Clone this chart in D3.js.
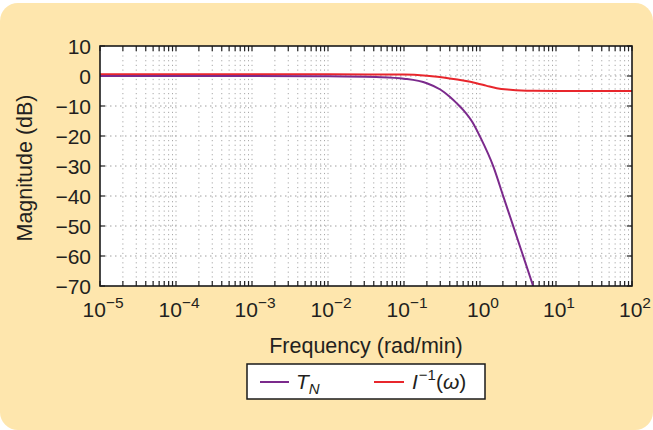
<!DOCTYPE html>
<html><head><meta charset="utf-8">
<script src="https://cdn.jsdelivr.net/npm/d3@7"></script>
<style>
html,body{margin:0;padding:0;background:#fff;}
svg{display:block;font-family:"Liberation Sans",Arial,sans-serif;}
</style></head>
<body>
<svg id="chart" width="653" height="430"></svg>
<script>
// ---- data ----
const freqTN = [1e-5, 1e-3, 0.01, 0.05, 0.1, 0.2, 0.3, 0.4, 0.5, 0.6, 0.8, 1.0, 1.5, 2.03, 2.75, 3.72, 5.0];
const magTN  = [0, 0, -0.1, -0.4, -0.9, -2.4, -4.5, -6.9, -9.2, -11.3, -15.5, -20.2, -30.2, -40.2, -50.2, -60.2, -70];
const freqInv = [1e-5, 0.01, 0.1, 0.2, 0.4, 0.6, 0.9, 1.2, 1.66, 2.5, 3.5, 5, 10, 100];
const magInv  = [0.6, 0.55, 0.5, 0.1, -0.8, -1.5, -2.4, -3.2, -4.1, -4.6, -4.85, -4.95, -5, -5];
const xDecades = [-5, -4, -3, -2, -1, 0, 1, 2];
const yTicks = [10, 0, -10, -20, -30, -40, -50, -60, -70];
const seriesNames = ["T_N", "I^-1(ω)"];

const W = 653, H = 430;
const L = 100, R = 632, T = 46, B = 286;
const svg = d3.select("#chart");

svg.append("rect").attr("x", 0).attr("y", 3).attr("width", W).attr("height", H - 3)
  .attr("rx", 18).attr("fill", "#fee6ad");

const x = d3.scaleLog().domain([1e-5, 1e2]).range([L, R]);
const y = d3.scaleLinear().domain([-70, 10]).range([B, T]);

svg.append("rect").attr("x", L).attr("y", T).attr("width", R - L).attr("height", B - T).attr("fill", "#fff");

// minor + major x positions
const xAll = [];
for (let e = -5; e < 2; e++) for (let m = 1; m <= 9; m++) xAll.push(m * Math.pow(10, e));
xAll.push(100);

const grid = svg.append("g");
grid.selectAll("line.v").data(xAll.filter(v => v > 1e-5 && v < 100)).enter().append("line")
  .attr("x1", d => x(d)).attr("x2", d => x(d)).attr("y1", T).attr("y2", B)
  .attr("stroke", "#a8a8a8").attr("stroke-width", 1).attr("stroke-dasharray", "1.2,3.5");
grid.selectAll("line.h").data(yTicks.filter(v => v > -70 && v < 10)).enter().append("line")
  .attr("x1", L).attr("x2", R).attr("y1", d => y(d)).attr("y2", d => y(d))
  .attr("stroke", "#a0a0a0").attr("stroke-width", 1).attr("stroke-dasharray", "1.5,3.5");

// ticks (inward)
const ticks = svg.append("g").attr("stroke", "#222").attr("stroke-width", 1.2);
xAll.forEach(v => {
  ticks.append("line").attr("x1", x(v)).attr("x2", x(v)).attr("y1", B).attr("y2", B - 5);
  ticks.append("line").attr("x1", x(v)).attr("x2", x(v)).attr("y1", T).attr("y2", T + 5);
});
yTicks.forEach(v => {
  ticks.append("line").attr("x1", L).attr("x2", L + 5).attr("y1", y(v)).attr("y2", y(v));
  ticks.append("line").attr("x1", R).attr("x2", R - 5).attr("y1", y(v)).attr("y2", y(v));
});

// curves
svg.append("clipPath").attr("id", "clip").append("rect")
  .attr("x", L).attr("y", T).attr("width", R - L).attr("height", B - T);
const line = d3.line().x(d => x(d[0])).y(d => y(d[1])).curve(d3.curveMonotoneX);
const gC = svg.append("g").attr("clip-path", "url(#clip)");
gC.append("path").datum(freqInv.map((f, i) => [f, magInv[i]]))
  .attr("d", line).attr("fill", "none").attr("stroke", "#e8262c").attr("stroke-width", 2);
gC.append("path").datum(freqTN.map((f, i) => [f, magTN[i]]))
  .attr("d", line).attr("fill", "none").attr("stroke", "#7b2a8c").attr("stroke-width", 2);

// frame
svg.append("rect").attr("x", L).attr("y", T).attr("width", R - L).attr("height", B - T)
  .attr("fill", "none").attr("stroke", "#1a1a1a").attr("stroke-width", 1.6);

// y tick labels
svg.append("g").selectAll("text").data(yTicks).enter().append("text")
  .attr("x", 91).attr("y", d => y(d)).attr("dy", "0.36em").attr("text-anchor", "end")
  .attr("font-size", 21).attr("fill", "#231f20")
  .text(d => d < 0 ? "\u2212" + Math.abs(d) : String(d));

// x tick labels
const xl = svg.append("g").selectAll("text").data(xDecades).enter().append("text")
  .attr("x", d => x(Math.pow(10, d)) + 3).attr("y", 317).attr("text-anchor", "middle")
  .attr("font-size", 21).attr("fill", "#231f20");
xl.append("tspan").text("10");
xl.append("tspan").attr("dy", -9).attr("font-size", 15.5).text(d => d < 0 ? "\u2212" + Math.abs(d) : String(d));

// axis titles
svg.append("text").attr("x", 366).attr("y", 353).attr("text-anchor", "middle")
  .attr("font-size", 21.5).attr("fill", "#231f20").text("Frequency (rad/min)");
svg.append("text").attr("transform", "translate(32,168) rotate(-90)").attr("text-anchor", "middle")
  .attr("font-size", 21.5).attr("fill", "#231f20").text("Magnitude (dB)");

// legend
const lg = svg.append("g");
lg.append("rect").attr("x", 247).attr("y", 364).attr("width", 238).attr("height", 35)
  .attr("fill", "#fff").attr("stroke", "#1a1a1a").attr("stroke-width", 1.5);
lg.append("line").attr("x1", 260).attr("x2", 289).attr("y1", 382).attr("y2", 382)
  .attr("stroke", "#7b2a8c").attr("stroke-width", 2);
lg.append("line").attr("x1", 374).attr("x2", 404).attr("y1", 382).attr("y2", 382)
  .attr("stroke", "#e8262c").attr("stroke-width", 2);
const t1 = lg.append("text").attr("x", 296).attr("y", 389).attr("font-size", 21).attr("fill", "#231f20");
t1.append("tspan").attr("font-style", "italic").text("T");
t1.append("tspan").attr("font-style", "italic").attr("font-size", 15).attr("dy", 5).text("N");
const t2 = lg.append("text").attr("x", 412).attr("y", 389).attr("font-size", 21).attr("fill", "#231f20");
t2.append("tspan").attr("font-style", "italic").text("I");
t2.append("tspan").attr("font-size", 15).attr("dy", -9).attr("dx", 1).text("\u22121");
t2.append("tspan").attr("dy", 9).text("(");
t2.append("tspan").attr("font-style", "italic").text("ω");
t2.append("tspan").text(")");
</script>
</body></html>
